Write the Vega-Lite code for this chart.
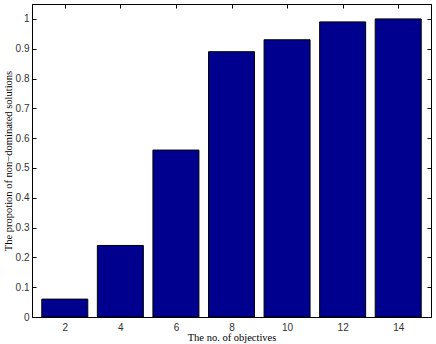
{
  "$schema": "https://vega.github.io/schema/vega-lite/v6.json",
  "autosize": "none",
  "width": 399,
  "height": 313,
  "padding": {"left": 32, "top": 4, "right": 5, "bottom": 27},
  "background": "white",
  "config": {
    "view": {"stroke": "black", "strokeWidth": 1},
    "axis": {
      "domainColor": "black",
      "tickColor": "black",
      "labelColor": "#333333",
      "labelFont": "Liberation Sans",
      "labelFontSize": 10,
      "titleFont": "Liberation Serif",
      "titleFontSize": 10.5,
      "titleFontWeight": "normal",
      "titleColor": "black",
      "grid": false
    }
  },
  "data": {
    "values": [
      {"objectives": 2, "proportion": 0.06},
      {"objectives": 4, "proportion": 0.24},
      {"objectives": 6, "proportion": 0.56},
      {"objectives": 8, "proportion": 0.89},
      {"objectives": 10, "proportion": 0.93},
      {"objectives": 12, "proportion": 0.99},
      {"objectives": 14, "proportion": 1.0}
    ]
  },
  "layer": [
    {
      "mark": {"type": "bar", "size": 46, "fill": "#00008F", "stroke": "black", "strokeWidth": 1},
      "encoding": {
        "x": {
          "field": "objectives", "type": "quantitative",
          "scale": {"domain": [1, 15], "nice": false, "zero": false},
          "axis": {"orient": "bottom", "values": [2, 4, 6, 8, 10, 12, 14], "tickSize": -4, "labelPadding": 9, "title": "The no. of objectives", "titlePadding": 0}
        },
        "y": {
          "field": "proportion", "type": "quantitative",
          "scale": {"domain": [0, 1.05], "nice": false},
          "axis": {"orient": "left", "values": [0, 0.1, 0.2, 0.3, 0.4, 0.5, 0.6, 0.7, 0.8, 0.9, 1], "format": "~g", "tickSize": -4, "labelPadding": 7, "title": "The propotion of non\u2212dominated solutions", "titlePadding": 2}
        }
      }
    },
    {
      "mark": {"type": "bar", "size": 46, "opacity": 0},
      "encoding": {
        "x": {
          "field": "objectives", "type": "quantitative",
          "axis": {"orient": "top", "values": [2, 4, 6, 8, 10, 12, 14], "tickSize": -4, "labels": false, "title": null}
        },
        "y": {
          "field": "proportion", "type": "quantitative",
          "axis": {"orient": "right", "values": [0, 0.1, 0.2, 0.3, 0.4, 0.5, 0.6, 0.7, 0.8, 0.9, 1], "tickSize": -4, "labels": false, "title": null}
        }
      }
    }
  ],
  "resolve": {"axis": {"x": "independent", "y": "independent"}}
}
